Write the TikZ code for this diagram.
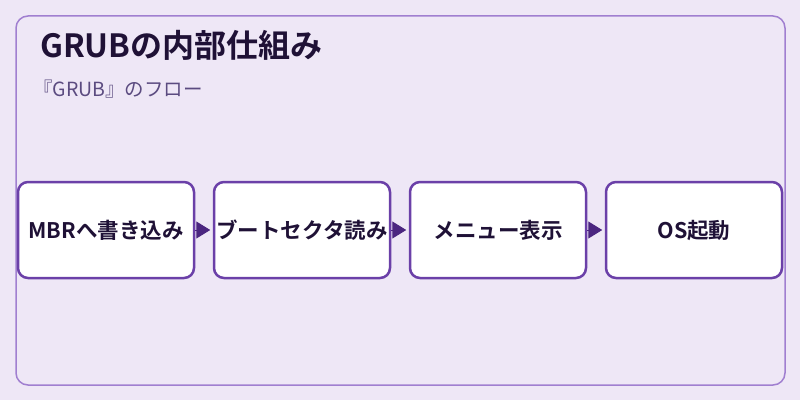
\documentclass[tikz,border=0pt]{standalone}
\usepackage{fontspec}
\setmainfont{Noto Sans CJK JP}[BoldFont={Noto Sans CJK JP Bold}]
\usetikzlibrary{arrows.meta}
\definecolor{bg}{HTML}{EEE7F6}
\definecolor{frame}{HTML}{A07FD0}
\definecolor{boxline}{HTML}{6B40A8}
\definecolor{arrowc}{HTML}{4B2680}
\definecolor{titlec}{HTML}{1F1136}
\definecolor{subc}{HTML}{5B4B80}
\begin{document}
\begin{tikzpicture}[x=1pt,y=1pt,
  stepbox/.style={draw=boxline,line width=2.5pt,fill=white,rounded corners=10pt,
    minimum width=176pt,minimum height=96pt,inner sep=0pt,
    font=\fontsize{21.5}{24}\selectfont\bfseries,text=titlec},
  flow/.style={draw=arrowc,line width=1pt,-{Triangle[length=14pt,width=17pt]},arrowc,shorten >=2.5pt}]
\fill[bg] (0,0) rectangle (800,400);
\useasboundingbox (0,0) rectangle (800,400);
\draw[frame,line width=1.5pt,rounded corners=12pt] (16,15) rectangle (785,384);
\node[anchor=base west,inner sep=0pt,text=titlec,font=\fontsize{32}{36}\selectfont\bfseries] (title) at (40,343) {GRUBの内部仕組み};
\node[anchor=base west,inner sep=0pt,text=subc,font=\fontsize{19.5}{22}\selectfont] (sub) at (33,304) {『GRUB』のフロー};
\node[stepbox] (b1) at (106,170) {MBRへ書き込み};
\node[stepbox] (b2) at (302,170) {ブートセクタ読み};
\node[stepbox] (b3) at (498,170) {メニュー表示};
\node[stepbox] (b4) at (694,170) {OS起動};
\draw[flow] (b1) -- (b2);
\draw[flow] (b2) -- (b3);
\draw[flow] (b3) -- (b4);
\end{tikzpicture}
\end{document}
